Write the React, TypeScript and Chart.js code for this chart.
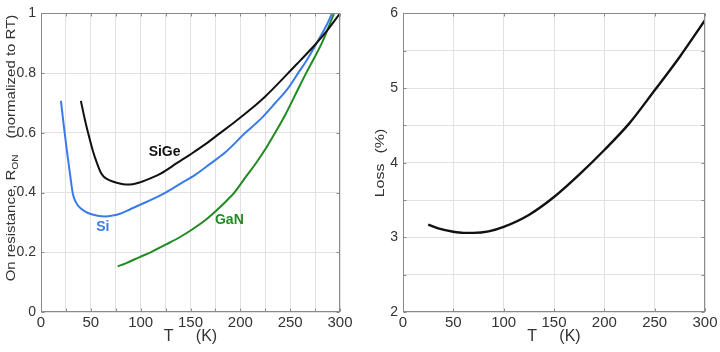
import React, { useEffect, useRef } from 'react';
import { Chart, registerables } from 'chart.js';

Chart.register(...registerables);

// ---------- data ----------
const siT = [20, 23, 26, 29, 32, 35, 38, 44, 50, 57, 64, 72, 80, 90, 100, 112, 125, 140, 155, 170, 185, 205, 220, 235, 248, 258, 266, 272, 279, 286, 292, 296];
const siR = [0.707, 0.62, 0.54, 0.465, 0.395, 0.368, 0.353, 0.337, 0.328, 0.322, 0.32, 0.323, 0.33, 0.345, 0.36, 0.378, 0.4, 0.43, 0.46, 0.497, 0.535, 0.6, 0.645, 0.7, 0.75, 0.8, 0.84, 0.873, 0.915, 0.957, 1.0, 1.03];

const sigeT = [40, 44, 48, 52, 56, 60, 63, 67, 72, 78, 85, 92, 100, 110, 120, 137, 150, 165, 180, 195, 210, 225, 248, 260, 272, 286, 300];
const sigeR = [0.707, 0.645, 0.59, 0.54, 0.5, 0.467, 0.453, 0.444, 0.437, 0.431, 0.427, 0.428, 0.435, 0.448, 0.463, 0.5, 0.528, 0.562, 0.6, 0.638, 0.678, 0.722, 0.8, 0.842, 0.884, 0.938, 1.0];

const ganT = [77, 85, 99, 110, 126, 140, 152, 165, 176, 186, 194, 206, 216, 226, 234, 245, 257, 266, 274, 282, 288, 294, 297];
const ganR = [0.153, 0.163, 0.184, 0.2, 0.227, 0.252, 0.277, 0.308, 0.34, 0.372, 0.4, 0.455, 0.5, 0.55, 0.595, 0.66, 0.74, 0.8, 0.85, 0.902, 0.95, 1.0, 1.025];

const lossT = [25, 35, 50, 60, 70, 85, 100, 125, 150, 175, 200, 225, 250, 275, 300];
const lossV = [3.17, 3.12, 3.075, 3.06, 3.06, 3.08, 3.14, 3.3, 3.54, 3.84, 4.17, 4.53, 4.97, 5.42, 5.91];

const curveLabels = ['SiGe', 'Si', 'GaN'];
const curveLabelT = [124, 62, 189];
const curveLabelR = [0.534, 0.285, 0.307];

// ---------- styles ----------
const FONT = "'Liberation Sans', Arial, sans-serif";
const GRID = '#e2e2e2';
const BOX = '#8a8a8a';
const TXT = '#333333';
const BLACK = '#111111';
const BLUE = '#3a7be8';
const GREEN = '#238a23';

function pts(xs: number[], ys: number[]) {
  return xs.map((x, i) => ({ x, y: ys[i] }));
}

function boxPlugin() {
  return {
    id: 'boxTicks',
    afterDatasetsDraw(chart: any) {
      const { ctx, chartArea: a, scales } = chart;
      ctx.save();
      ctx.strokeStyle = BOX;
      ctx.lineWidth = 1;
      const l = Math.round(a.left) + 0.5, r = Math.round(a.right) - 0.5;
      const t = Math.round(a.top) + 0.5, b = Math.round(a.bottom) - 0.5;
      ctx.strokeRect(l, t, r - l, b - t);
      const L = 3;
      ctx.beginPath();
      scales.x.ticks.forEach((tk: any) => {
        const px = Math.round(scales.x.getPixelForValue(tk.value)) + 0.5;
        ctx.moveTo(px, t); ctx.lineTo(px, t + L);
        ctx.moveTo(px, b); ctx.lineTo(px, b - L);
      });
      scales.y.ticks.forEach((tk: any) => {
        const py = Math.round(scales.y.getPixelForValue(tk.value)) + 0.5;
        ctx.moveTo(l, py); ctx.lineTo(l + L, py);
        ctx.moveTo(r, py); ctx.lineTo(r - L, py);
      });
      ctx.stroke();
      ctx.restore();
    },
  };
}

// rotated y-axis title made of pieces; each piece: [text, fontSize, baselineShift, gapBefore]
function yTitlePlugin(cx: number, cy: number, pieces: [string, number, number, number][]) {
  return {
    id: 'yTitle',
    afterDraw(chart: any) {
      const ctx = chart.ctx;
      ctx.save();
      ctx.fillStyle = TXT;
      ctx.textBaseline = 'middle';
      ctx.textAlign = 'left';
      const widths = pieces.map(([txt, size]) => {
        ctx.font = `${size}px ${FONT}`;
        return ctx.measureText(txt).width;
      });
      const total = widths.reduce((s, w, i) => s + w + pieces[i][3], 0);
      ctx.translate(cx, cy);
      ctx.rotate(-Math.PI / 2);
      ctx.scale(1, 0.82);
      let x = -total / 2;
      pieces.forEach(([txt, size, shift, gap], i) => {
        x += gap;
        ctx.font = `${size}px ${FONT}`;
        ctx.fillText(txt, x, shift);
        x += widths[i];
      });
      ctx.restore();
    },
  };
}

function curveLabelPlugin(colors: string[]) {
  return {
    id: 'curveLabels',
    afterDatasetsDraw(chart: any) {
      const { ctx, scales } = chart;
      ctx.save();
      ctx.font = `bold 14px ${FONT}`;
      ctx.textAlign = 'center';
      ctx.textBaseline = 'middle';
      curveLabels.forEach((name, i) => {
        ctx.fillStyle = colors[i];
        ctx.fillText(name, scales.x.getPixelForValue(curveLabelT[i]), scales.y.getPixelForValue(curveLabelR[i]));
      });
      ctx.restore();
    },
  };
}

function baseScales(opts: {
  xMin: number; xMax: number; xStep: number; xLabelEvery: number;
  yMin: number; yMax: number; yStep: number; yLabel: (v: number) => string; yWidth: number;
}) {
  return {
    x: {
      type: 'linear',
      min: opts.xMin,
      max: opts.xMax,
      border: { display: false },
      grid: { color: GRID, lineWidth: 1, drawTicks: false },
      ticks: {
        stepSize: opts.xStep,
        autoSkip: false,
        maxRotation: 0,
        padding: 2,
        color: TXT,
        font: { family: FONT, size: 15 },
        callback: (v: number) => (Math.abs(v % opts.xLabelEvery) < 1e-9 ? String(v) : ''),
      },
      title: {
        display: true,
        text: 'T     (K)',
        color: TXT,
        font: { family: FONT, size: 16 },
        padding: { top: 0, bottom: 6 },
      },
      afterFit: (s: any) => { s.height = 40; },
    },
    y: {
      type: 'linear',
      min: opts.yMin,
      max: opts.yMax,
      border: { display: false },
      grid: { color: GRID, lineWidth: 1, drawTicks: false },
      ticks: {
        stepSize: opts.yStep,
        autoSkip: false,
        padding: 5,
        color: TXT,
        font: { family: FONT, size: 14 },
        callback: (v: number) => opts.yLabel(v),
      },
      afterFit: (s: any) => { s.width = opts.yWidth; },
    },
  };
}

export default function App() {
  const leftRef = useRef<HTMLCanvasElement>(null);
  const rightRef = useRef<HTMLCanvasElement>(null);

  useEffect(() => {
    const left = new Chart(leftRef.current as HTMLCanvasElement, {
      type: 'line',
      data: {
        datasets: [
          { label: 'SiGe', data: pts(sigeT, sigeR), borderColor: BLACK, borderWidth: 2, pointRadius: 0, cubicInterpolationMode: 'monotone', fill: false },
          { label: 'Si', data: pts(siT, siR), borderColor: BLUE, borderWidth: 2, pointRadius: 0, cubicInterpolationMode: 'monotone', fill: false },
          { label: 'GaN', data: pts(ganT, ganR), borderColor: GREEN, borderWidth: 2, pointRadius: 0, cubicInterpolationMode: 'monotone', fill: false },
        ],
      } as any,
      options: {
        responsive: false,
        devicePixelRatio: 1,
        animation: false,
        layout: { padding: { top: 12, right: 20, left: 0, bottom: 0 } },
        plugins: { legend: { display: false }, tooltip: { enabled: false } },
        scales: baseScales({
          xMin: 0, xMax: 300, xStep: 25, xLabelEvery: 50,
          yMin: 0, yMax: 1, yStep: 0.2,
          yLabel: (v) => String(Math.round(v * 10) / 10),
          yWidth: 41,
        }),
      } as any,
      plugins: [
        boxPlugin(),
        curveLabelPlugin([BLACK, BLUE, GREEN]),
        yTitlePlugin(12, 148, [
          ['On resistance, R', 15, 0, 0],
          ['ON', 10, 4, 0],
          ['(normalized to RT)', 15, 0, 16],
        ]),
      ] as any,
    });

    const right = new Chart(rightRef.current as HTMLCanvasElement, {
      type: 'line',
      data: {
        datasets: [
          { label: 'Loss', data: pts(lossT, lossV), borderColor: BLACK, borderWidth: 2.4, pointRadius: 0, cubicInterpolationMode: 'monotone', fill: false },
        ],
      } as any,
      options: {
        responsive: false,
        devicePixelRatio: 1,
        animation: false,
        layout: { padding: { top: 12, right: 15, left: 0, bottom: 0 } },
        plugins: { legend: { display: false }, tooltip: { enabled: false } },
        scales: baseScales({
          xMin: 0, xMax: 300, xStep: 50, xLabelEvery: 50,
          yMin: 2, yMax: 6, yStep: 0.5,
          yLabel: (v) => (Math.abs(v - Math.round(v)) < 1e-9 ? String(Math.round(v)) : ''),
          yWidth: 43,
        }),
      } as any,
      plugins: [
        boxPlugin(),
        yTitlePlugin(20, 163, [
          ['Loss', 16, 0, 0],
          ['(%)', 16, 0, 10],
        ]),
      ] as any,
    });

    return () => {
      left.destroy();
      right.destroy();
    };
  }, []);

  return (
    <div style={{ position: 'absolute', left: 0, top: 0, width: 720, height: 352, background: '#ffffff' }}>
      <canvas ref={leftRef} width={360} height={352} style={{ position: 'absolute', left: 0, top: 0, width: 360, height: 352 }} />
      <canvas ref={rightRef} width={360} height={352} style={{ position: 'absolute', left: 360, top: 0, width: 360, height: 352 }} />
    </div>
  );
}
